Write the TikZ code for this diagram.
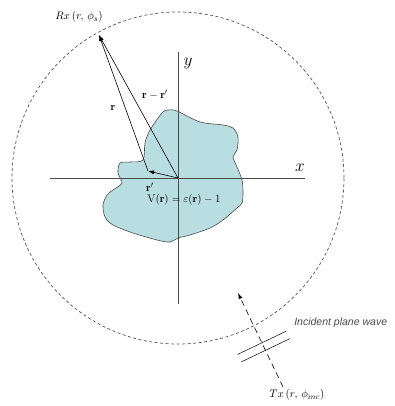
\documentclass[tikz,border=0pt]{standalone}
\usepackage{fontspec}
\newfontfamily\wavefont{Liberation Sans}
\usetikzlibrary{arrows.meta, positioning, calc}
\definecolor{cteal}{HTML}{B9DEE1}
\definecolor{cgrey}{HTML}{4A4A4A}
\definecolor{cdash}{HTML}{555555}
\tikzset{
  every picture/.style={line width=0.6pt, x=1pt, y=1pt},
  axis/.style={draw=cgrey, line width=0.7pt},
  vec/.style={-{Latex[length=6pt, width=4pt]}, draw=black, line width=0.6pt},
  ring/.style={draw=cdash, dash pattern=on 3pt off 2.5pt, line width=0.7pt},
  lab/.style={font=\fontsize{11}{13}\selectfont, inner sep=1pt},
  axlab/.style={font=\fontsize{18}{20}\selectfont, inner sep=1pt},
}

\begin{document}
\begin{tikzpicture}
  \useasboundingbox (-178,-228) rectangle (217,178);
  \coordinate (o) at (0,0);
  % scatterer
  \draw[draw=cgrey, fill=cteal] plot[smooth cycle, tension=0.5] coordinates {
    (-16,65) (-10,68) (-1,67) (22,56) (45,53) (55,50) (60,41) (59,28) (55,21)
    (59,11) (64,-2) (65,-15) (64,-25) (59,-30) (45,-42) (32,-50) (12,-57)
    (0,-60) (-8,-64) (-21,-62) (-45,-55) (-65,-47) (-73,-39) (-75,-27)
    (-71,-17) (-65,-12) (-56,-5) (-60,5) (-58,15) (-48,16) (-35,18) (-33,35)
    (-28,48)};
  \draw[axis] (-128,0) -- (127,0);
  \draw[axis] (0,126) -- (0,-126);
  \node[axlab] (xlab) at (122,10) {$x$};
  \node[axlab] (ylab) at (10,115) {$y$};
  \draw[ring] (o) circle[radius=166];

  % receiver and vectors
  \coordinate (rx) at (-79,143);
  \coordinate (rp) at (-30,7);
  \draw[vec] (o) -- (rp);
  \draw[vec] (rp) -- (rx);
  \draw[vec] (o) -- (rx);
  \node[lab] (rxlab) at (-99,161) {$Rx\left(r,\,\phi_s\right)$};
  \node[lab] (rlab) at (-65,70) {$\mathbf{r}$};
  \node[lab] (rrlab) at (-23,83) {$\mathbf{r}-\mathbf{r}'$};
  \node[lab] (rplab) at (-28,-9) {$\mathbf{r}'$};
  \node[lab] (vlab) at (6,-22) {$\mathrm{V}(\mathbf{r})=\varepsilon(\mathbf{r})-1$};

  % incident wave
  \coordinate (txfoot) at (105,-209);
  \coordinate (txhead) at (60,-115);
  \draw[vec, dash pattern=on 6pt off 4pt] (txfoot) -- (txhead);
  \foreach \t/\n in {0.47/a, 0.39/b} {
    \coordinate (w\n) at ($(txfoot)!\t!(txhead)$);
    \draw[line width=0.5pt] ($(w\n)!27pt!90:(txhead)$) -- ($(w\n)!27pt!-90:(txhead)$);
  }
  \node[lab, anchor=west, text=cgrey, font=\wavefont\itshape\fontsize{10.5}{12}\selectfont] (wavelab) at (115,-145) {Incident plane wave};
  \node[lab] (txlab) at (119,-217) {$Tx\left(r,\,\phi_{inc}\right)$};
\end{tikzpicture}
\end{document}
